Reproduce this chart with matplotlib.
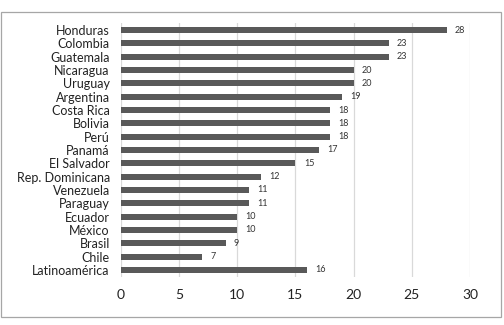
import matplotlib.pyplot as plt
from matplotlib.patches import Rectangle

plt.rcParams['font.family'] = ['Lato', 'DejaVu Sans']

paises = ["Honduras", "Colombia", "Guatemala", "Nicaragua", "Uruguay", "Argentina",
          "Costa Rica", "Bolivia", "Perú", "Panamá", "El Salvador", "Rep. Dominicana",
          "Venezuela", "Paraguay", "Ecuador", "México", "Brasil", "Chile", "Latinoamérica"]
valores = [28, 23, 23, 20, 20, 19, 18, 18, 18, 17, 15, 12, 11, 11, 10, 10, 9, 7, 16]
x_ticks = [0, 5, 10, 15, 20, 25, 30]

fig = plt.figure(figsize=(5.04, 3.25), dpi=100)
ax = fig.add_axes([0.240, 0.149, 0.6925, 0.779])

pos = list(range(len(paises)))
ax.barh(pos, valores, height=0.45, color="#595959", zorder=3)
for p, v in zip(pos, valores):
    ax.annotate(str(v), (v, p), xytext=(6, 0), textcoords="offset points",
                va="center", ha="left", fontsize=6.5, color="#333333")

ax.set_yticks(pos)
ax.set_yticklabels(paises, fontsize=9)
ax.set_ylim(len(paises) - 0.5, -0.5)
ax.set_xlim(0, 30)
ax.set_xticks(x_ticks)
ax.set_xticklabels([str(t) for t in x_ticks], fontsize=10)
ax.tick_params(axis="both", length=0, colors="#222222")
ax.tick_params(axis="y", pad=8)
ax.tick_params(axis="x", pad=9)
ax.xaxis.grid(True, color="#d9d9d9", linewidth=0.9, zorder=0)
for s in ax.spines.values():
    s.set_visible(False)

# marco exterior
fig.patches.append(Rectangle((1 / 504, 8 / 325), 500 / 504, 305 / 325,
                             transform=fig.transFigure, fill=False,
                             edgecolor="#a6a6a6", linewidth=0.9))

fig.savefig("out.png", dpi=100)
